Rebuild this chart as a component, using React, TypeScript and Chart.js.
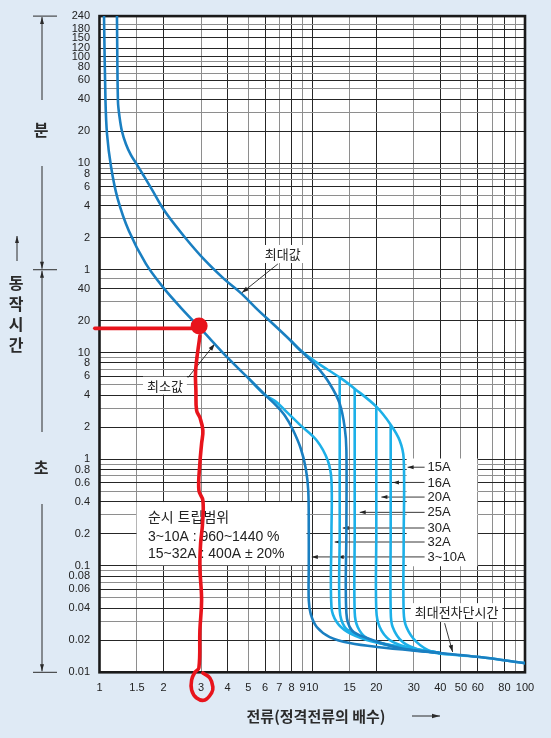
import React, { useEffect, useRef } from "react";
import { Chart, registerables } from "chart.js";

Chart.register(...registerables);

const W = 551;
const H = 738;

// ---- axis ticks (x: multiple of rated current, y: seconds) ----
const xTicks = [1, 1.5, 2, 3, 4, 5, 6, 7, 8, 9, 10, 15, 20, 30, 40, 50, 60, 70, 80, 90, 100];
const xTickLabels = ["1", "1.5", "2", "3", "4", "5", "6", "7", "8", "9", "10", "15", "20", "30", "40", "50", "60", "", "80", "", "100"];

const secTicks = [0.01, 0.02, 0.03, 0.04, 0.05, 0.06, 0.07, 0.08, 0.09, 0.1, 0.2, 0.3, 0.4, 0.5, 0.6, 0.7, 0.8, 0.9, 1, 2, 3, 4, 5, 6, 7, 8, 9, 10, 20, 30, 40, 50];
const secTickLabels = ["0.01", "0.02", "", "0.04", "", "0.06", "", "0.08", "", "0.1", "0.2", "", "0.4", "", "0.6", "", "0.8", "", "1", "2", "", "4", "", "6", "", "8", "", "10", "20", "", "40", ""];
const minTicks = [1, 2, 3, 4, 5, 6, 7, 8, 9, 10, 20, 30, 40, 50, 60, 70, 80, 90, 100, 120, 150, 180, 200, 240];
const minTickLabels = ["1", "2", "", "4", "", "6", "", "8", "", "10", "20", "", "40", "", "60", "", "80", "", "100", "120", "150", "180", "", "240"];

// ---- curves (x = multiple of rated current, y = seconds) ----
const minCurveX = [1.05, 1.067, 1.085, 1.132, 1.215, 1.375, 1.653, 2.0, 2.439, 2.996, 4.0, 4.98, 5.984, 6.74, 7.43, 8.099, 8.83, 9.322, 9.577, 9.63, 9.63, 9.63, 9.84, 10.5, 12.08, 15.0, 20.09, 39.68, 61.15, 100];
const minCurveY = [14400, 2284, 1121, 562, 282, 138.5, 68.0, 40.5, 25.8, 16.7, 8.96, 5.82, 4.03, 3.22, 2.57, 1.9, 1.26, 0.818, 0.509, 0.216, 0.1, 0.0475, 0.0351, 0.0266, 0.0214, 0.0188, 0.0173, 0.0152, 0.0139, 0.0122];

const maxCurveX = [1.208, 1.221, 1.241, 1.275, 1.332, 1.406, 1.5, 1.618, 1.754, 2.024, 2.512, 3.118, 3.87, 4.633, 5.547, 6.645, 7.929, 8.736, 10.5, 12.08, 13.46, 14.21, 14.47, 14.47, 14.47, 15.33, 18.03, 25.76, 39.68];
const maxCurveY = [14400, 2284, 1652, 1196, 904, 713, 581, 453, 346, 213, 121.7, 74.1, 48.7, 36.0, 25.2, 18.06, 12.93, 10.64, 7.38, 5.11, 3.32, 1.98, 1.21, 0.216, 0.0359, 0.0249, 0.021, 0.0169, 0.0152];

const a15X = [7.929, 8.736, 10.46, 13.46, 15.83, 20.0, 23.37, 25.76, 26.9, 26.9, 26.9, 27.7, 30.95, 36.8, 44.22, 61.15, 100];
const a15Y = [12.93, 10.64, 8.1, 5.86, 4.59, 3.11, 2.11, 1.5, 1.015, 0.173, 0.0367, 0.0266, 0.0192, 0.0155, 0.0147, 0.0139, 0.0122];

const a16X = [23.37, 23.37, 23.37, 23.88, 26.61, 31.96, 39.68];
const a16Y = [2.11, 0.2, 0.0383, 0.0266, 0.0192, 0.0162, 0.0152];

const a20X = [20.0, 20.0, 20.0, 20.75, 23.11, 27.78, 39.68];
const a20Y = [3.11, 0.2, 0.0383, 0.0266, 0.0201, 0.0173, 0.0152];

const a25X = [15.83, 15.83, 15.83, 16.35, 18.0, 22.4, 30.0, 39.68];
const a25Y = [4.59, 0.2, 0.0367, 0.0266, 0.021, 0.018, 0.0163, 0.0152];

const a30X = [13.46, 13.46, 13.46, 14.21, 16.18, 20.09, 28.0, 39.68];
const a30Y = [5.86, 0.2, 0.0383, 0.0266, 0.0224, 0.0192, 0.0168, 0.0152];

const a32X = [4.98, 5.984, 6.74, 7.43, 8.736, 10.5, 11.83, 12.31, 12.31, 12.31, 13.03, 14.68, 18.03, 23.11, 39.68];
const a32Y = [5.82, 4.03, 3.47, 2.89, 2.11, 1.5, 0.972, 0.632, 0.2, 0.0409, 0.0296, 0.0238, 0.0201, 0.018, 0.0152];

// ---- red hand-drawn marks ----
const redLineX = [0.95, 2.96];
const redLineY = [16.9, 16.9];
const redDotX = [2.94];
const redDotY = [17.8];
const redPathX = [2.964, 2.83, 2.839, 2.861, 2.964, 3.061, 3.019, 2.964, 2.932, 3.061, 3.051, 2.987, 2.964, 3.019, 2.964, 2.932, 2.808, 2.71, 2.71, 2.861, 3.128, 3.363, 3.411, 3.302, 3.061];
const redPathY = [14.4, 6.77, 4.4, 2.86, 2.46, 1.86, 1.4, 0.912, 0.509, 0.41, 0.25, 0.162, 0.0968, 0.0475, 0.0249, 0.011, 0.01, 0.00847, 0.00683, 0.00574, 0.0055, 0.0064, 0.00729, 0.00884, 0.00985];

// ---- annotations (data coordinates) ----
const ratedLabels = ["15A", "16A", "20A", "25A", "30A", "32A", "3~10A"];
const ratedLabelY = [0.841, 0.605, 0.441, 0.317, 0.226, 0.167, 0.121];
const ratedTipX = [28.08, 23.95, 21.13, 16.71, 13.91, 12.75, 9.95];
const ratedExtraTipX = 13.17;
const ratedTextX = 34.85;
const ratedBoxX = [27.78, 59.8];
const ratedBoxY = [1.015, 0.0989];

const tripLines = ["순시 트립범위", "3~10A : 960~1440 %", "15~32A : 400A ± 20%"];
const tripLineY = [0.278, 0.185, 0.128];
const tripTextX = 1.69;
const tripBoxX = [1.495, 9.394];
const tripBoxY = [0.396, 0.101];

const calloutText = ["최대값", "최소값", "최대전차단시간"];
const calloutX = [7.27, 2.03, 47.7];
const calloutY = [84.3, 4.9, 0.0367];
const calloutFromX = [6.89, 2.604, 41.9];
const calloutFromY = [67.9, 5.82, 0.0289];
const calloutToX = [4.667, 3.485, 45.7];
const calloutToY = [36.4, 12.1, 0.0155];

// ---- styles ----
const BG = "#dfeaf5";
const DARK = "#1a7fc1";
const CYAN = "#1db0e8";
const RED = "#e8141c";
const INK = "#222222";
const FONT_KR = '"Noto Sans CJK KR", "Noto Sans", sans-serif';
const FONT_LAT = '"Liberation Sans", Arial, "Noto Sans CJK KR", sans-serif';
const FONT_TICK = '"Liberation Sans Narrow", "Liberation Sans", Arial, sans-serif';

const yTicks = [...secTicks, ...minTicks.map((m) => m * 60)];
const yTickLabels = [...secTickLabels, ...minTickLabels];

const pts = (xs: number[], ys: number[]) => xs.map((x, i) => ({ x, y: ys[i] }));

function arrowHead(ctx: CanvasRenderingContext2D, x: number, y: number, ang: number, head: number, hw: number) {
  ctx.beginPath();
  ctx.moveTo(x, y);
  ctx.lineTo(x - head * Math.cos(ang) + hw * Math.sin(ang), y - head * Math.sin(ang) - hw * Math.cos(ang));
  ctx.lineTo(x - head * Math.cos(ang) - hw * Math.sin(ang), y - head * Math.sin(ang) + hw * Math.cos(ang));
  ctx.closePath();
  ctx.fill();
}

function arrow(ctx: CanvasRenderingContext2D, x1: number, y1: number, x2: number, y2: number, head = 7, hw = 2.3) {
  ctx.beginPath();
  ctx.moveTo(x1, y1);
  ctx.lineTo(x2, y2);
  ctx.stroke();
  arrowHead(ctx, x2, y2, Math.atan2(y2 - y1, x2 - x1), head, hw);
}

const decoPlugin = {
  id: "deco",
  beforeDraw(chart: any) {
    const { ctx, chartArea: a, width, height } = chart;
    ctx.save();
    ctx.fillStyle = BG;
    ctx.fillRect(0, 0, width, height);
    ctx.fillStyle = "#ffffff";
    ctx.fillRect(a.left, a.top, a.right - a.left, a.bottom - a.top);
    ctx.restore();
  },
  beforeDatasetsDraw(chart: any) {
    const { ctx, chartArea: a } = chart;
    const sx = chart.scales.x;
    const sy = chart.scales.y;
    const X = (v: number) => sx.getPixelForValue(v);
    const Y = (v: number) => sy.getPixelForValue(v);
    ctx.save();
    ctx.strokeStyle = "#1a1a1a";
    ctx.lineWidth = 2.6;
    ctx.strokeRect(a.left, a.top, a.right - a.left, a.bottom - a.top);

    ctx.fillStyle = "#ffffff";
    ctx.fillRect(X(tripBoxX[0]), Y(tripBoxY[0]), X(tripBoxX[1]) - X(tripBoxX[0]), Y(tripBoxY[1]) - Y(tripBoxY[0]));
    ctx.fillRect(X(ratedBoxX[0]), Y(ratedBoxY[0]), X(ratedBoxX[1]) - X(ratedBoxX[0]), Y(ratedBoxY[1]) - Y(ratedBoxY[0]));

    ctx.fillStyle = INK;
    ctx.textAlign = "left";
    ctx.textBaseline = "middle";
    ctx.font = `14px ${FONT_LAT}`;
    tripLines.forEach((t, i) => ctx.fillText(t, X(tripTextX), Y(tripLineY[i])));

    ctx.strokeStyle = INK;
    ctx.lineWidth = 0.9;
    ctx.font = `13px ${FONT_LAT}`;
    ratedLabels.forEach((t, i) => {
      const y = Y(ratedLabelY[i]);
      const tx = X(ratedTextX);
      ctx.fillText(t, tx, y + 0.5);
      arrow(ctx, tx - 3, y, X(ratedTipX[i]), y, 6, 2);
    });
    arrowHead(ctx, X(ratedExtraTipX), Y(ratedLabelY[6]), Math.PI, 6, 2);

    ctx.font = `13px ${FONT_KR}`;
    ctx.textAlign = "center";
    calloutText.forEach((t, i) => {
      const cx = X(calloutX[i]);
      const cy = Y(calloutY[i]);
      const w = ctx.measureText(t).width;
      ctx.fillStyle = "#ffffff";
      ctx.fillRect(cx - w / 2 - 4, cy - 9, w + 8, 18);
      ctx.fillStyle = INK;
      ctx.fillText(t, cx, cy);
      arrow(ctx, X(calloutFromX[i]), Y(calloutFromY[i]), X(calloutToX[i]), Y(calloutToY[i]), 7, 2.2);
    });
    ctx.restore();
  },
  afterDraw(chart: any) {
    const { ctx, chartArea: a } = chart;
    const sy = chart.scales.y;
    const yMin = sy.getPixelForValue(60);
    ctx.save();
    ctx.strokeStyle = "#2a2a2a";
    ctx.fillStyle = "#2a2a2a";
    ctx.lineWidth = 1;
    const bx = 42;
    [a.top, yMin, a.bottom].forEach((y: number) => {
      ctx.beginPath();
      ctx.moveTo(33, y);
      ctx.lineTo(57, y);
      ctx.stroke();
    });
    arrow(ctx, bx, 100, bx, a.top + 1, 7, 2);
    arrow(ctx, bx, 166, bx, yMin - 1, 7, 2);
    arrow(ctx, bx, 432, bx, yMin + 1, 7, 2);
    arrow(ctx, bx, 504, bx, a.bottom - 1, 7, 2);
    arrow(ctx, 17, 261, 17, 236, 7, 2);

    ctx.fillStyle = "#2b2b2b";
    ctx.textAlign = "center";
    ctx.textBaseline = "middle";
    ctx.font = `bold 16px ${FONT_KR}`;
    ctx.fillText("분", 41, 130);
    ctx.fillText("초", 41, 468);
    ["동", "작", "시", "간"].forEach((c, i) => ctx.fillText(c, 16, 283 + i * 20.5));
    ctx.font = `bold 15px ${FONT_KR}`;
    ctx.fillText("전류(정격전류의 배수)", 316, 716);
    ctx.strokeStyle = "#2b2b2b";
    arrow(ctx, 412, 716, 440, 716, 8, 2.2);
    ctx.restore();
  },
};

export default function App() {
  const ref = useRef<HTMLCanvasElement>(null);
  useEffect(() => {
    const canvas = ref.current;
    if (!canvas) return;
    const redBase = { borderColor: RED, borderWidth: 3.6, pointRadius: 0, clip: false as any, borderCapStyle: "round", borderJoinStyle: "round" };
    const curve = (label: string, xs: number[], ys: number[], color: string) => ({
      label,
      data: pts(xs, ys),
      borderColor: color,
      borderWidth: 2.6,
      pointRadius: 0,
      tension: 0.35,
      fill: false,
      borderJoinStyle: "round",
    });
    const chart = new Chart(canvas, {
      type: "line",
      data: {
        datasets: [
          { label: "red-h", data: pts(redLineX, redLineY), tension: 0, ...redBase },
          { label: "red-dot", data: pts(redDotX, redDotY), showLine: false, pointRadius: 8.5, pointBackgroundColor: RED, pointBorderWidth: 0, clip: false as any },
          { label: "red-v", data: pts(redPathX, redPathY), tension: 0.4, ...redBase },
          curve("최소값", minCurveX, minCurveY, DARK),
          curve("최대값", maxCurveX, maxCurveY, DARK),
          curve("15A", a15X, a15Y, CYAN),
          curve("16A", a16X, a16Y, CYAN),
          curve("20A", a20X, a20Y, CYAN),
          curve("25A", a25X, a25Y, CYAN),
          curve("30A", a30X, a30Y, CYAN),
          curve("32A", a32X, a32Y, CYAN),
        ] as any,
      },
      options: {
        animation: false,
        responsive: false,
        events: [],
        layout: { padding: { top: 14.7, right: 26, left: 0, bottom: 0 } },
        elements: { point: { radius: 0 }, line: { capBezierPoints: false } },
        plugins: { legend: { display: false }, tooltip: { enabled: false } },
        scales: {
          x: {
            type: "logarithmic",
            min: 1,
            max: 100,
            afterBuildTicks: (s: any) => {
              s.ticks = xTicks.map((v) => ({ value: v }));
            },
            afterFit: (s: any) => {
              s.height = H - 672.3;
            },
            ticks: {
              autoSkip: false,
              maxRotation: 0,
              minRotation: 0,
              padding: 9,
              color: INK,
              font: { family: FONT_TICK, size: 11 },
              callback: (_v: any, i: number) => xTickLabels[i],
            },
            grid: {
              drawTicks: false,
              lineWidth: 1,
              color: (c: any) => (c.index % 2 === 1 ? "#8e8e8e" : "#262626"),
            },
            border: { display: false },
          },
          y: {
            type: "logarithmic",
            min: 0.01,
            max: 14400,
            afterBuildTicks: (s: any) => {
              s.ticks = yTicks.map((v) => ({ value: v }));
            },
            afterFit: (s: any) => {
              s.width = 99.5;
            },
            ticks: {
              autoSkip: false,
              padding: 9.5,
              color: INK,
              font: { family: FONT_TICK, size: 11 },
              callback: (_v: any, i: number) => yTickLabels[i],
            },
            grid: {
              drawTicks: false,
              lineWidth: 1,
              color: (c: any) => (yTickLabels[c.index] ? "#262626" : "#8e8e8e"),
            },
            border: { display: false },
          },
        },
      } as any,
      plugins: [decoPlugin as any],
    });
    return () => chart.destroy();
  }, []);
  return (
    <div style={{ position: "absolute", left: 0, top: 0, width: W, height: H, background: BG }}>
      <canvas ref={ref} width={W} height={H} style={{ display: "block", width: W, height: H }} />
    </div>
  );
}
